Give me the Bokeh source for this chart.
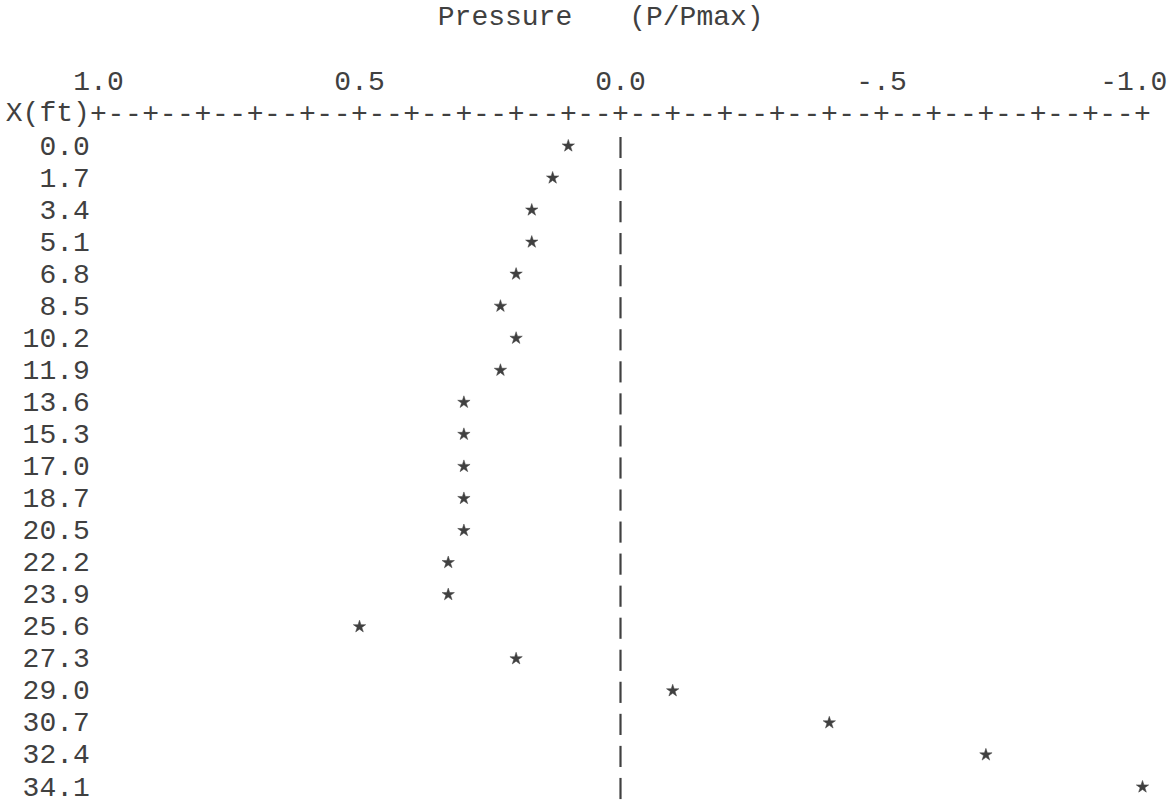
from bokeh.plotting import figure
from bokeh.models import Range1d, ColumnDataSource
from bokeh.core.properties import value
from bokeh.embed import file_html
from bokeh.resources import INLINE

# Station along the member (ft) and normalised pressure at each station
x_ft = ["0.0", "1.7", "3.4", "5.1", "6.8", "8.5", "10.2", "11.9", "13.6", "15.3",
        "17.0", "18.7", "20.5", "22.2", "23.9", "25.6", "27.3", "29.0", "30.7",
        "32.4", "34.1"]
pressure = [0.10, 0.13, 0.17, 0.17, 0.20, 0.23, 0.20, 0.23, 0.30, 0.30,
            0.30, 0.30, 0.30, 0.33, 0.33, 0.50, 0.20, -0.10, -0.40,
            -0.70, -1.00]

# Printer-style scale along the top
tick_values = [1.0, 0.5, 0.0, -0.5, -1.0]
tick_labels = ["1.0", "0.5", "0.0", "-.5", "-1.0"]
title_words = ["Pressure", "(P/Pmax)"]
title_cols = [20, 31]          # print column where each word starts
row_header = "X(ft)"

# Character grid: 3 print columns per 0.1 of scale, one print line per station
COLS_PER_UNIT = 30
COL = 1.0 / COLS_PER_UNIT
FONT = value("Liberation Mono")
FSIZE = "28px"
CHAR_PX = 17.4
INK = "#404040"
YOFF = -2

W, H = 1175, 803
px_per_unit = (1142 - 98) / 2.0
row_px = 32.05
row0_px = 147

p = figure(width=W, height=H, output_backend="svg", toolbar_location=None,
           x_range=Range1d(1.0 + 98 / px_per_unit, -1.0 - (W - 1142) / px_per_unit),
           y_range=Range1d((H - row0_px) / row_px, -row0_px / row_px),
           min_border=0, x_axis_location=None, y_axis_location=None,
           outline_line_color=None, background_fill_color="white",
           border_fill_color="white")
p.grid.visible = False

rows = list(range(len(x_ft)))
TITLE_ROW, LABEL_ROW, AXIS_ROW = -4, -2, -1

common = dict(text_font=FONT, text_font_size=FSIZE, text_color=INK,
              text_baseline="middle", y_offset=YOFF)

# Title line
p.text(x=[1.0 - (c - 0.5) * COL for c in title_cols], y=[TITLE_ROW] * 2,
       text=title_words, text_align="left", **common)

# Scale labels, decimal point sits over its '+' mark
offsets = [((len(s) - 1) / 2 - s.index(".")) * CHAR_PX for s in tick_labels]
lab_src = ColumnDataSource(dict(x=tick_values, y=[LABEL_ROW] * len(tick_values),
                                text=tick_labels, off=offsets))
p.text(x="x", y="y", text="text", x_offset="off", source=lab_src,
       text_align="center", **common)

# Scale line: '+' every 0.1, '-' in between
n_ticks = 21
plus_x = [1.0 - i * 3 * COL for i in range(n_ticks)]
dash_x = [1.0 - (i * 3 + k) * COL for i in range(n_ticks - 1) for k in (1, 2)]
p.text(x=plus_x, y=[AXIS_ROW] * len(plus_x), text=["+"] * len(plus_x),
       text_align="center", **common)
p.text(x=dash_x, y=[AXIS_ROW] * len(dash_x), text=["-"] * len(dash_x),
       text_align="center", **common)
p.text(x=[1.0 + 0.5 * COL], y=[AXIS_ROW], text=[row_header],
       text_align="right", **common)

# Station labels down the left margin
p.text(x=[1.0 + 0.5 * COL] * len(rows), y=rows, text=x_ft,
       text_align="right", **common)

# Zero line printed as '|' on each line
p.segment(x0=[0.0] * len(rows), x1=[0.0] * len(rows),
          y0=[r - 0.33 for r in rows], y1=[r + 0.33 for r in rows],
          line_color=INK, line_width=2.2)

# Pressure points
p.scatter(x=pressure, y=[r - 0.05 for r in rows], marker="star", size=13,
          fill_color=INK, line_color=INK, line_width=0.5)

open("out.html", "w").write(file_html(p, INLINE))
